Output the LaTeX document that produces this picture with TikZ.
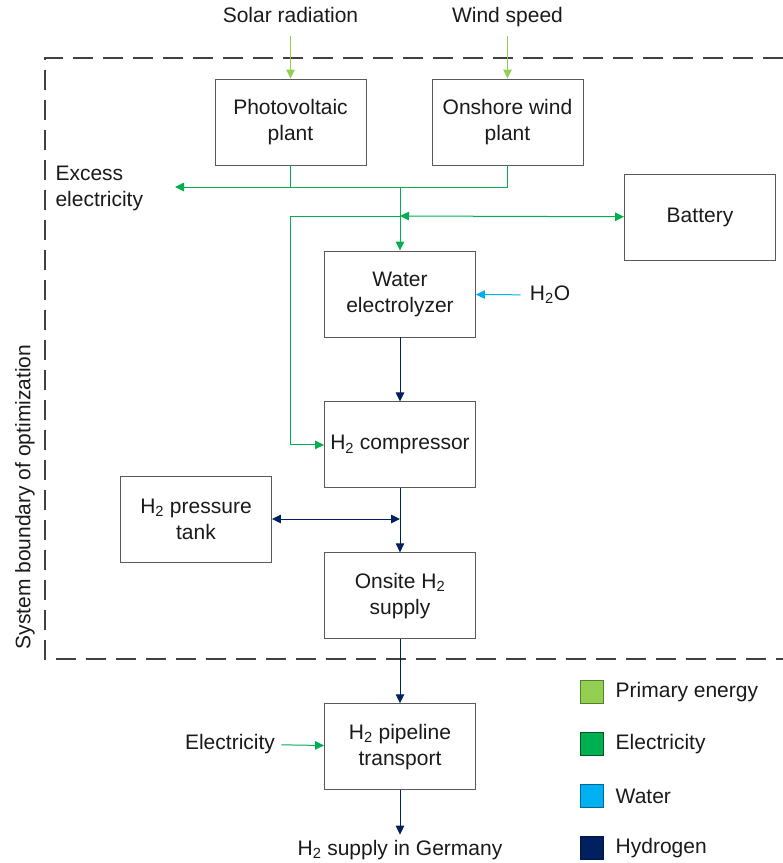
\documentclass[tikz,border=0pt]{standalone}
\usepackage{fontspec}
\setmainfont{Liberation Sans}
\usetikzlibrary{arrows.meta,positioning}
\definecolor{primarygreen}{HTML}{92D050}
\definecolor{elecgreen}{HTML}{00B050}
\definecolor{waterblue}{HTML}{00B0F0}
\definecolor{hydronavy}{HTML}{002060}
\definecolor{boxgray}{HTML}{595959}
\definecolor{textdark}{HTML}{1A1A1A}

\begin{document}
\begin{tikzpicture}[
    x=1pt, y=-1pt,
    font=\fontsize{21}{26}\selectfont,
    node distance=64pt,
    unit/.style={rectangle, draw=boxgray, line width=0.9pt, minimum width=151pt, minimum height=86pt, align=center, inner sep=2pt, text=textdark},
    inlabel/.style={text=textdark, outer sep=6pt, align=center, text height=15pt, text depth=5pt},
    flow/.style={-{Triangle[length=9pt,width=8.5pt]}, line width=1pt},
    twoway/.style={{Triangle[length=9pt,width=8.5pt]}-{Triangle[length=9pt,width=8.5pt]}, line width=1pt},
    boundary/.style={draw=black!75, line width=1.6pt, dash pattern=on 20pt off 10pt},
    legbox/.style={rectangle, minimum size=23pt, inner sep=0pt, line width=1pt},
    legtext/.style={text=textdark, anchor=west, inner sep=0pt}
]
\useasboundingbox (0,0) rectangle (783,863);

\draw[boundary] (783,58) -- (45,58) -- (45,659) -- (783,659);
\node[rotate=90, text=textdark] (sysboundary) at (25,497) {System boundary of optimization};

\node[inlabel] (solar) at (290.5,17) {Solar radiation};
\node[inlabel] (windspeed) at (507.5,17) {Wind speed};
\node[unit] (pv) at (290.5,122) {Photovoltaic\\plant};
\node[unit] (wind) at (507.5,122) {Onshore wind\\plant};
\node[unit] (battery) at (700,217) {Battery};
\node[text=textdark, align=left, anchor=west] (excess) at (52,188) {Excess\\electricity};

\node[unit] (ely) at (400,294) {Water\\electrolyzer};
\node[unit, below=of ely] (comp) {H\textsubscript{2} compressor};
\node[unit, below=of comp] (onsite) {Onsite H\textsubscript{2}\\supply};
\node[unit, below=of onsite] (pipe) {H\textsubscript{2} pipeline\\transport};
\node[unit] (tank) at (196,519) {H\textsubscript{2} pressure\\tank};

\node[inlabel] (h2o) at (550,295) {H\textsubscript{2}O};
\node[inlabel, outer sep=3pt] (elecin) at (230,744) {Electricity};
\node[inlabel, outer sep=2pt] (germany) at (400,850) {H\textsubscript{2} supply in Germany};

\coordinate (bus) at (400,187);
\coordinate (excessend) at (175,187);
\coordinate (batjoint) at (400,216);
\coordinate (bypass) at (290,216);
\coordinate (tankjoint) at (400,519);

\draw[flow, primarygreen] (solar) -- (pv);
\draw[flow, primarygreen] (windspeed) -- (wind);

\draw[elecgreen, line width=1pt] (pv.south) -- (pv.south |- bus);
\draw[flow, elecgreen] (wind.south) |- (excessend);
\draw[flow, elecgreen] (bus) -- (ely);
\draw[twoway, elecgreen] (batjoint) -- (battery);
\draw[flow, elecgreen] (batjoint) -- (bypass) |- (comp);
\draw[flow, elecgreen] (elecin) -- (pipe);

\draw[flow, waterblue] (h2o) -- (ely);

\draw[flow, hydronavy] (ely) -- (comp);
\draw[twoway, hydronavy] (tank) -- (tankjoint);
\draw[flow, hydronavy] (comp) -- (onsite);
\draw[flow, hydronavy] (onsite) -- (pipe);
\draw[flow, hydronavy] (pipe) -- (germany);

\node[legbox, fill=primarygreen, draw=primarygreen!60!black] (legprimary) at (591.5,692) {};
\node[legtext, right=12pt of legprimary] (legprimarytext) {Primary energy};
\node[legbox, fill=elecgreen, draw=elecgreen!50!black] (legelec) at (591.5,744) {};
\node[legtext, right=12pt of legelec] (legelectext) {Electricity};
\node[legbox, fill=waterblue, draw=waterblue!60!black] (legwater) at (591.5,796) {};
\node[legtext, right=12pt of legwater] (legwatertext) {Water};
\node[legbox, fill=hydronavy, draw=hydronavy!70!black] (leghydro) at (591.5,848) {};
\node[legtext, right=12pt of leghydro] (leghydrotext) {Hydrogen};
\end{tikzpicture}
\end{document}
